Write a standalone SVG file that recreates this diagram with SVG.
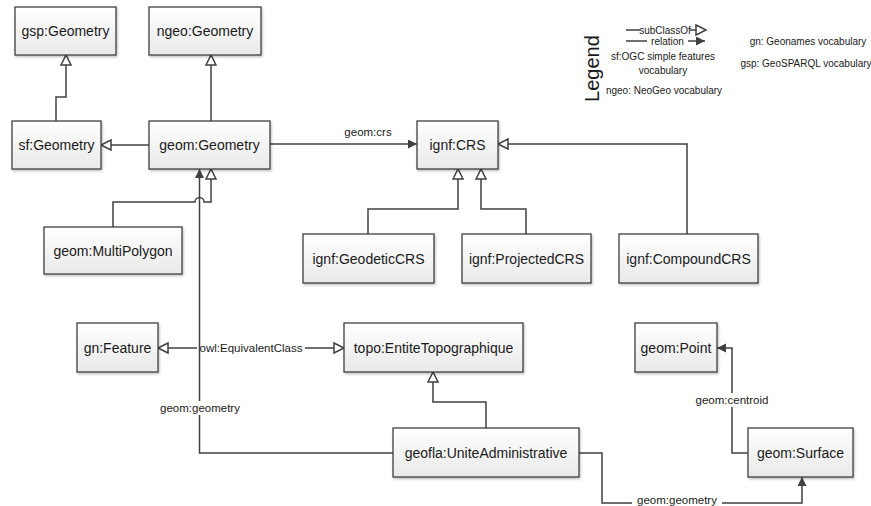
<svg xmlns="http://www.w3.org/2000/svg" width="871" height="506" viewBox="0 0 871 506">
<defs>
<linearGradient id="g" x1="0" y1="0" x2="0" y2="1"><stop offset="0" stop-color="#ffffff"/><stop offset="1" stop-color="#e9e9e9"/></linearGradient>
<filter id="sh" x="-10%" y="-10%" width="130%" height="140%"><feDropShadow dx="1" dy="1.5" stdDeviation="0.8" flood-color="#000" flood-opacity="0.25"/></filter>
<marker id="hol" markerUnits="userSpaceOnUse" markerWidth="14" markerHeight="14" refX="11" refY="6" orient="auto"><path d="M1,1 L11,6 L1,11 Z" fill="#fff" stroke="#404040" stroke-width="1.5"/></marker>
<marker id="holS" markerUnits="userSpaceOnUse" markerWidth="14" markerHeight="14" refX="11" refY="6" orient="auto-start-reverse"><path d="M1,1 L11,6 L1,11 Z" fill="#fff" stroke="#404040" stroke-width="1.5"/></marker>
<marker id="fil" markerUnits="userSpaceOnUse" markerWidth="12" markerHeight="12" refX="9" refY="4.5" orient="auto"><path d="M0,0 L9,4.5 L0,9 Z" fill="#404040"/></marker>
</defs>
<style>
.n rect{fill:url(#g);stroke:#404040;stroke-width:1.3;filter:url(#sh)}
.n text{font-family:"Liberation Sans",Arial,sans-serif;font-size:14px;fill:#1a1a1a;text-anchor:middle;dominant-baseline:central}
.c path{fill:none;stroke:#404040;stroke-width:1.5}
.h{marker-end:url(#hol)}
.f{marker-end:url(#fil)}
.l{font-family:"Liberation Sans",Arial,sans-serif;font-size:11.5px;fill:#1a1a1a;text-anchor:middle;dominant-baseline:central}
.lg{font-family:"Liberation Sans",Arial,sans-serif;font-size:10px;fill:#1a1a1a;text-anchor:middle;dominant-baseline:central}
.bg{fill:#fff}
</style>

<g id="connectors" class="c">
<path class="h" d="M56,121 V97 H66 V55"/>
<path class="h" d="M211,121 V55"/>
<path class="h" d="M149,145 H101"/>
<path class="f" d="M270,144 H417"/>
<path class="h" d="M687,234 V144 H498"/>
<path class="h" d="M368,234 V209 H458 V169"/>
<path class="h" d="M526,234 V209 H481 V169"/>
<path class="h" d="M113,227 V202 H195 A4.5,4.5 0 0 1 204,202 H211 V169"/>
<path style="marker-start:url(#holS)" d="M158,348 H197"/>
<path class="h" d="M305,348 H344"/>
<path class="f" d="M393,453 H199.5 V169"/>
<path class="h" d="M486,428 V402 H433 V372"/>
<path class="f" d="M579,453 H602 V503 H802 V477"/>
<path class="f" d="M748,453 H732 V348 H717"/>
<text class="l" x="368" y="132">geom:crs</text>
<text class="l" x="251" y="348">owl:EquivalentClass</text>
<rect class="bg" x="162" y="401" width="76" height="14"/>
<text class="l" x="200" y="408" font-size="11">geom:geometry</text>
<rect class="bg" x="694" y="393" width="78" height="14"/>
<text class="l" x="732" y="400">geom:centroid</text>
<rect class="bg" x="632" y="495" width="90" height="11"/>
<text class="l" x="677" y="499.5">geom:geometry</text>
</g>

<g id="gsp-Geometry" class="n"><rect x="15" y="7" width="101" height="48"/><text x="65.5" y="31">gsp:Geometry</text></g>
<g id="ngeo-Geometry" class="n"><rect x="149" y="7" width="112" height="48"/><text x="205" y="31">ngeo:Geometry</text></g>
<g id="sf-Geometry" class="n"><rect x="12" y="121" width="89" height="48"/><text x="56.5" y="145">sf:Geometry</text></g>
<g id="geom-Geometry" class="n"><rect x="149" y="121" width="121" height="48"/><text x="209.5" y="145">geom:Geometry</text></g>
<g id="ignf-CRS" class="n"><rect x="417" y="121" width="81" height="48"/><text x="457.5" y="145">ignf:CRS</text></g>
<g id="geom-MultiPolygon" class="n"><rect x="44" y="227" width="138" height="47"/><text x="113" y="250.5">geom:MultiPolygon</text></g>
<g id="ignf-GeodeticCRS" class="n"><rect x="303" y="234" width="131" height="49"/><text x="368.5" y="258.5">ignf:GeodeticCRS</text></g>
<g id="ignf-ProjectedCRS" class="n"><rect x="462" y="234" width="129" height="49"/><text x="526.5" y="258.5">ignf:ProjectedCRS</text></g>
<g id="ignf-CompoundCRS" class="n"><rect x="619" y="234" width="139" height="49"/><text x="688.5" y="258.5">ignf:CompoundCRS</text></g>
<g id="gn-Feature" class="n"><rect x="77" y="323" width="81" height="49"/><text x="117.5" y="347.5">gn:Feature</text></g>
<g id="topo-EntiteTopographique" class="n"><rect x="344" y="323" width="179" height="49"/><text x="433.5" y="347.5">topo:EntiteTopographique</text></g>
<g id="geom-Point" class="n"><rect x="635" y="323" width="82" height="49"/><text x="676" y="347.5">geom:Point</text></g>
<g id="geofla-UniteAdministrative" class="n"><rect x="393" y="428" width="186" height="49"/><text x="486" y="452.5">geofla:UniteAdministrative</text></g>
<g id="geom-Surface" class="n"><rect x="748" y="428" width="105" height="49"/><text x="800.5" y="452.5">geom:Surface</text></g>

<g id="legend">
<text x="592" y="68.5" transform="rotate(-90 592 68.5)" font-family="Liberation Sans, Arial, sans-serif" font-size="20" fill="#1a1a1a" text-anchor="middle" dominant-baseline="central">Legend</text>
<g class="c">
<path d="M626,30 H640"/>
<path class="h" d="M690,30 H706"/>
<path d="M626,41 H647"/>
<path class="f" d="M688,41 H705"/>
</g>
<text class="lg" x="665" y="30">subClassOf</text>
<text class="lg" x="667.5" y="41">relation</text>
<text class="lg" x="663" y="56">sf:OGC simple features</text>
<text class="lg" x="663" y="70">vocabulary</text>
<text class="lg" x="664" y="90">ngeo: NeoGeo vocabulary</text>
<text class="lg" x="808" y="41">gn: Geonames vocabulary</text>
<text class="lg" x="806" y="63">gsp: GeoSPARQL vocabulary</text>
</g>
</svg>
